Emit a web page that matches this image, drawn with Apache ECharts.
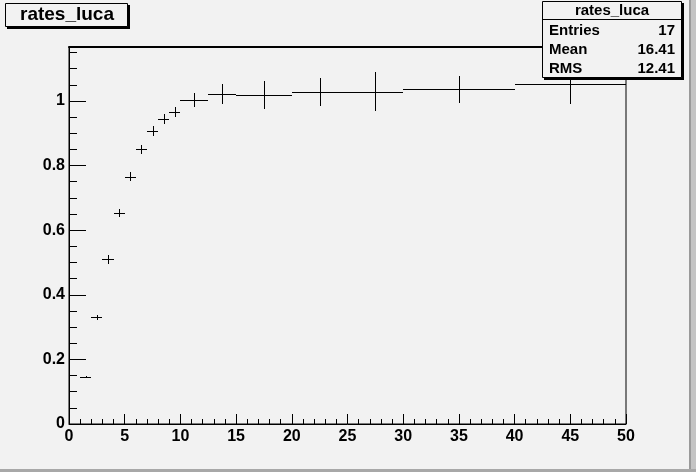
<!DOCTYPE html>
<html>
<head>
<meta charset="utf-8">
<script src="https://cdn.jsdelivr.net/npm/echarts@6/dist/echarts.min.js"></script>
<style>
html,body{margin:0;padding:0;background:#f2f2f2;}
#chart{width:696px;height:472px;}
</style>
</head>
<body>
<div id="chart"></div>
<script>
// Histogram "rates_luca": variable-width bins
var binEdges = [1, 2, 3, 4, 5, 6, 7, 8, 9, 10, 12.5, 15, 20, 25, 30, 40, 50];
var binValues = [0.146, 0.330, 0.510, 0.654, 0.766, 0.850, 0.908, 0.944, 0.965, 1.003, 1.021, 1.019, 1.027, 1.029, 1.036, 1.052];
var binErrors = [0.004, 0.008, 0.014, 0.013, 0.015, 0.015, 0.015, 0.015, 0.015, 0.022, 0.030, 0.043, 0.044, 0.061, 0.042, 0.062];
var xTickLabels = [0, 5, 10, 15, 20, 25, 30, 35, 40, 45, 50];
var yTickLabels = [0, 0.2, 0.4, 0.6, 0.8, 1];
var yMinorTicks = [0.05, 0.1, 0.15, 0.25, 0.3, 0.35, 0.45, 0.5, 0.55, 0.65, 0.7, 0.75, 0.85, 0.9, 0.95, 1.05, 1.1, 1.15];
var statsNames = ['Entries', 'Mean', 'RMS'];
var statsValues = ['17', '16.41', '12.41'];
var histName = 'rates_luca';

var data = [];
for (var i = 0; i < binValues.length; i++) {
  data.push([binEdges[i], binEdges[i + 1], binValues[i], binErrors[i]]);
}

var FONT = '"Liberation Sans", Arial, Helvetica, sans-serif';
var BG = '#f2f2f2';

function crisp(v) { return Math.round(v) + 0.5; }

var chart = echarts.init(document.getElementById('chart'), null, {renderer: 'canvas'});

var graphics = [
  // canvas border
  {type: 'rect', shape: {x: 689, y: 0, width: 7, height: 472}, style: {fill: '#c4c4c4'}, z: 1},
  {type: 'rect', shape: {x: 689, y: 0, width: 2, height: 472}, style: {fill: '#9a9a9a'}, z: 1},
  {type: 'rect', shape: {x: 0, y: 469, width: 696, height: 3}, style: {fill: '#a8a8a8'}, z: 1},
  // title box
  {type: 'rect', shape: {x: 7, y: 5, width: 123, height: 24}, style: {fill: '#000'}, z: 10},
  {type: 'rect', shape: {x: 5.5, y: 3.5, width: 122, height: 23}, style: {fill: BG, stroke: '#000', lineWidth: 1}, z: 11},
  {type: 'text', x: 67, y: 15, style: {text: histName, font: 'bold 19px ' + FONT, fill: '#000', textAlign: 'center', textVerticalAlign: 'middle'}, z: 12},
  // stats box
  {type: 'rect', shape: {x: 544, y: 3, width: 140, height: 77}, style: {fill: '#000'}, z: 10},
  {type: 'rect', shape: {x: 542.5, y: 1.5, width: 139, height: 76}, style: {fill: BG, stroke: '#000', lineWidth: 1}, z: 11},
  {type: 'line', shape: {x1: 542.5, y1: 19.5, x2: 681.5, y2: 19.5}, style: {stroke: '#000', lineWidth: 1}, z: 12},
  {type: 'text', x: 612, y: 11, style: {text: histName, font: 'bold 15px ' + FONT, fill: '#000', textAlign: 'center', textVerticalAlign: 'middle'}, z: 12}
];
var rowY = [31, 50, 69];
for (var r = 0; r < statsNames.length; r++) {
  graphics.push({type: 'text', x: 549, y: rowY[r], style: {text: statsNames[r], font: 'bold 15px ' + FONT, fill: '#000', textAlign: 'left', textVerticalAlign: 'middle'}, z: 12});
  graphics.push({type: 'text', x: 675, y: rowY[r], style: {text: statsValues[r], font: 'bold 15px ' + FONT, fill: '#000', textAlign: 'right', textVerticalAlign: 'middle'}, z: 12});
}

var option = {
  backgroundColor: BG,
  animation: false,
  grid: {left: 69, top: 47, width: 557, height: 377, show: true, borderColor: '#000', borderWidth: 1, backgroundColor: 'transparent'},
  xAxis: [{
    type: 'value', min: 0, max: 50, interval: 5, position: 'bottom',
    axisLine: {show: true, onZero: false, lineStyle: {color: '#000', width: 1}},
    axisTick: {show: true, inside: true, length: 10, lineStyle: {color: '#000'}},
    minorTick: {show: true, splitNumber: 5, length: 5, lineStyle: {color: '#000'}},
    axisLabel: {color: '#000', fontSize: 16, fontWeight: 'bold', fontFamily: FONT, margin: 5,
      customValues: xTickLabels},
    splitLine: {show: false}
  }, {
    type: 'value', min: 0, max: 50, position: 'top',
    axisLine: {show: true, onZero: false, lineStyle: {color: '#000', width: 2}},
    axisTick: {show: false}, axisLabel: {show: false}, splitLine: {show: false}
  }],
  yAxis: [{
    type: 'value', min: 0, max: 1.167, position: 'left',
    axisLine: {show: true, onZero: false, lineStyle: {color: '#000', width: 1}},
    axisTick: {show: true, inside: true, length: 17, lineStyle: {color: '#000'}, customValues: yTickLabels},
    axisLabel: {color: '#000', fontSize: 16, fontWeight: 'bold', fontFamily: FONT, margin: 4,
      customValues: yTickLabels},
    splitLine: {show: false}
  }, {
    type: 'value', min: 0, max: 1.167, position: 'left',
    axisLine: {show: false, onZero: false},
    axisTick: {show: true, inside: true, length: 8, lineStyle: {color: '#000'}, customValues: yMinorTicks},
    axisLabel: {show: false},
    splitLine: {show: false}
  }],
  series: [{
    type: 'custom',
    xAxisIndex: 0, yAxisIndex: 0,
    data: data,
    clip: false,
    z: 5,
    renderItem: function (params, api) {
      var xl = api.value(0), xh = api.value(1), v = api.value(2), e = api.value(3);
      var pL = api.coord([xl, v]);
      var pH = api.coord([xh, v]);
      var xc = (xl + xh) / 2;
      var pT = api.coord([xc, v + e]);
      var pB = api.coord([xc, v - e]);
      var yy = crisp(pL[1]);
      var xx = crisp(pT[0]);
      return {
        type: 'group',
        children: [
          {type: 'line', shape: {x1: Math.round(pL[0]), y1: yy, x2: Math.round(pH[0]), y2: yy}, style: {stroke: '#000', lineWidth: 1}},
          {type: 'line', shape: {x1: xx, y1: Math.round(pT[1]), x2: xx, y2: Math.round(pB[1])}, style: {stroke: '#000', lineWidth: 1}}
        ]
      };
    }
  }],
  graphic: graphics
};
chart.setOption(option);
</script>
</body>
</html>
